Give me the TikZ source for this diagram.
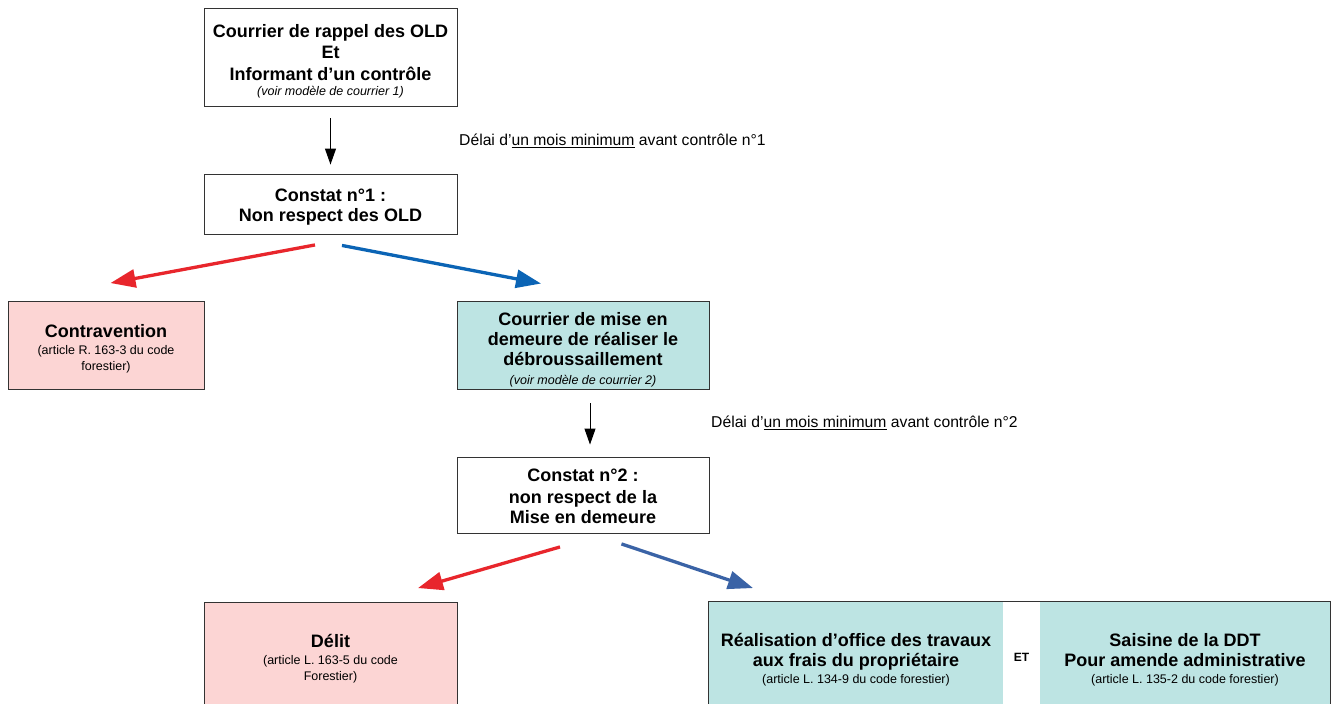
\documentclass[tikz,border=0pt]{standalone}
\usepackage{fontspec}
\setmainfont{Liberation Sans}
\usetikzlibrary{arrows.meta,positioning}

\definecolor{boxline}{HTML}{333333}
\definecolor{boxpink}{HTML}{FCD5D4}
\definecolor{boxteal}{HTML}{BDE4E3}
\definecolor{arrred}{HTML}{E8262C}
\definecolor{arrblue}{HTML}{0B64B5}
\definecolor{arrblueb}{HTML}{3A63A6}

\newcommand{\subnote}[1]{{\fontsize{12.5}{15}\selectfont\mdseries #1}}
\newcommand{\toprule}[1]{\rule{0pt}{#1pt}}

\begin{document}
\begin{tikzpicture}[x=1pt,y=-1pt,
    box/.style={draw=boxline,line width=0.9pt,align=center,inner sep=0pt,
                font=\fontsize{18}{21.5}\selectfont\bfseries},
    pinkbox/.style={box,fill=boxpink},
    tealbox/.style={box,fill=boxteal,draw=none},
    delay/.style={anchor=west,inner sep=0pt,font=\fontsize{15.7}{18}\selectfont},
    flow/.style={-{Triangle[length=16pt,width=11pt]},line width=1pt},
    fat/.style={-{Triangle[length=25pt,width=18pt]},line width=3.3pt}]
    \useasboundingbox (0,0) rectangle (1336,704);
    \fill[white] (0,0) rectangle (1336,704);

    \node[box,minimum width=253pt,minimum height=98pt] (rappel) at (330.5,57)
        {\toprule{22}Courrier de rappel des OLD\\Et\\Informant d’un contrôle\\[-6pt]
         \subnote{\itshape (voir modèle de courrier 1)}};
    \node[box,minimum width=253pt,minimum height=60pt] (c1) at (330.5,204)
        {\toprule{19}Constat n°1 :\\[-1pt]Non respect des OLD};
    \node[pinkbox,minimum width=196pt,minimum height=88pt] (contra) at (106,345)
        {\toprule{21}Contravention\\[-5pt]\subnote{(article R. 163-3 du code}\\[-5pt]\subnote{forestier)}};
    \node[box,fill=boxteal,minimum width=252pt,minimum height=88pt] (mise) at (583,345)
        {\toprule{23}Courrier de mise en\\[-1.5pt]demeure de réaliser le\\[-1.5pt]débroussaillement\\[-3pt]
         \subnote{\itshape (voir modèle de courrier 2)}};
    \node[box,minimum width=252pt,minimum height=76pt] (c2) at (583,495)
        {\toprule{16}Constat n°2 :\\non respect de la\\[-1pt]Mise en demeure};
    \node[pinkbox,minimum width=253pt,minimum height=110pt] (delit) at (330.5,657)
        {\toprule{17}Délit\\[-5pt]\subnote{(article L. 163-5 du code}\\[-5pt]\subnote{Forestier)}};
    \node[tealbox,minimum width=294pt,minimum height=110pt] (travaux) at (856,657)
        {\toprule{18}Réalisation d’office des travaux\\[-1pt]aux frais du propriétaire\\[-5pt]
         \subnote{(article L. 134-9 du code forestier)}};
    \node[tealbox,minimum width=290pt,minimum height=110pt] (saisine) at (1185,657)
        {\toprule{18}Saisine de la DDT\\[-1pt]Pour amende administrative\\[-5pt]
         \subnote{(article L. 135-2 du code forestier)}};
    \node[font=\fontsize{12}{14}\selectfont\bfseries] (et) at (1021.5,657) {ET};
    \draw[boxline,line width=0.9pt] (travaux.north west) rectangle (saisine.south east);

    \node[delay] (delai1) at (459,141) {Délai d'\underline{un mois minimum} avant contrôle n°1};
    \node[delay] (delai2) at (711,423) {Délai d'\underline{un mois minimum} avant contrôle n°2};

    \draw[flow,shorten <=12pt,shorten >=9pt] (rappel.south) -- (c1.north);
    \draw[flow,shorten <=14pt,shorten >=12pt] ([xshift=7pt]mise.south) -- ([xshift=7pt]c2.north);

    \draw[fat,arrred] ([shift={(-15.5,10.5)}]c1.south) -- ([shift={(4.5,-17.5)}]contra.north);
    \draw[fat,arrblue] ([shift={(11.5,11)}]c1.south) -- ([shift={(-42,-17)}]mise.north);
    \draw[fat,arrred] ([shift={(-23,13.5)}]c2.south) -- ([shift={(87.5,-13.5)}]delit.north);
    \draw[fat,arrblueb] ([shift={(38.5,10.5)}]c2.south) -- ([shift={(-103,-13.5)}]travaux.north);
\end{tikzpicture}
\end{document}
